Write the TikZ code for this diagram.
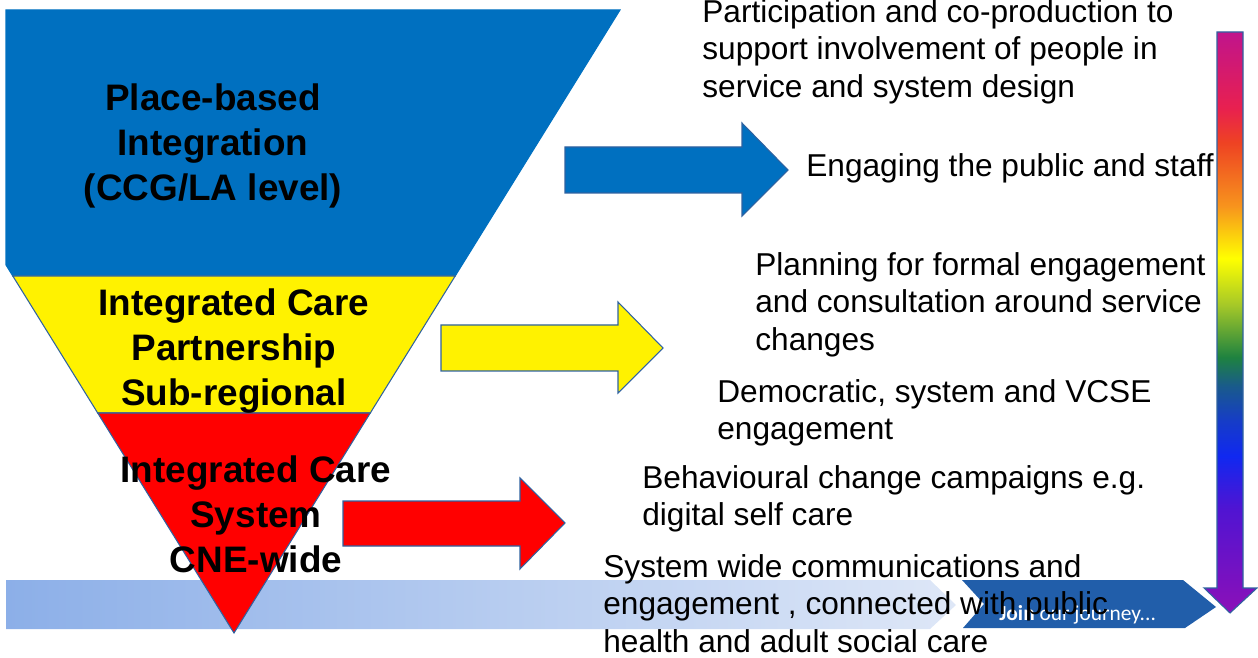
\documentclass[tikz,border=0pt]{standalone}
\usepackage{fontspec}
\setmainfont{Liberation Sans}
\newfontfamily\journeyfont{Carlito}
\usetikzlibrary{positioning,calc}

\definecolor{pptblue}{RGB}{0,112,192}
\definecolor{edgeblue}{RGB}{47,98,160}
\definecolor{bandleft}{RGB}{140,175,232}
\definecolor{bandright}{RGB}{222,231,247}
\definecolor{journeyblue}{RGB}{33,94,170}
% colours of the rainbow arrow, bottom to top
\definecolor{rbpurple}{RGB}{140,16,184}
\definecolor{rbviolet}{RGB}{80,20,210}
\definecolor{rbblue}{RGB}{16,40,240}
\definecolor{rbdeep}{RGB}{22,60,200}
\definecolor{rbteal}{RGB}{25,90,140}
\definecolor{rbgreen}{RGB}{30,130,64}
\definecolor{rblime}{RGB}{165,200,40}
\definecolor{rbyellow}{RGB}{255,255,0}
\definecolor{rborange}{RGB}{247,148,29}
\definecolor{rbred}{RGB}{238,66,35}
\definecolor{rbpink}{RGB}{232,32,80}
\definecolor{rbmagenta}{RGB}{192,20,140}

\pgfdeclareverticalshading{rainbow}{100bp}{
  color(0bp)=(rbpurple); color(25bp)=(rbpurple); color(34bp)=(rbviolet);
  color(38.5bp)=(rbblue); color(41.5bp)=(rbdeep); color(44.5bp)=(rbteal);
  color(47bp)=(rbgreen); color(51.5bp)=(rblime); color(55.5bp)=(rbyellow);
  color(60bp)=(rborange); color(65.5bp)=(rbred); color(68.5bp)=(rbpink);
  color(75bp)=(rbmagenta); color(100bp)=(rbmagenta)}

\tikzset{
layer/.style={draw=edgeblue, line width=0.6pt, line join=miter},
blockarrow/.style={draw=edgeblue, line width=0.6pt},
levellabel/.style={inner sep=0pt, anchor=north, align=center,
  font=\fontsize{21}{25.5}\selectfont\bfseries},
note/.style={inner sep=0pt, anchor=north west, align=left,
  font=\fontsize{18}{21.26}\selectfont},
}

\begin{document}
\begin{tikzpicture}[x=0.02cm, y=-0.02cm]
  \useasboundingbox (0,0) rectangle (1258,658);

  % band along the bottom
  \shade[left color=bandleft, right color=bandright]
    (6,580) -- (930,580) -- (956,605) -- (930,629) -- (6,629) -- cycle;
  \fill[journeyblue]
    (962,580) -- (1183,580) -- (1216,607) -- (1185,628) -- (963,628) -- (984,604) -- cycle;
  \node (journey) [anchor=base west, inner sep=0pt, text=white,
    font=\journeyfont\fontsize{12.2}{14}\selectfont] at (999,620)
    {\bfseries Join\mdseries\ our journey...};

  % the three levels of the funnel
  \filldraw[layer, fill=pptblue, draw=pptblue]
    (6,10) -- (620,10) -- (455.2,276) -- (12.8,276) -- (6,265) -- cycle;
  \filldraw[layer, fill=yellow]
    (12.8,276) -- (455.2,276) -- (370.3,413) -- (97.7,413) -- cycle;
  \filldraw[layer, fill=red]
    (97.7,413) -- (370.3,413) -- (234,633) -- cycle;

  % arrows out of each level
  \filldraw[blockarrow, fill=pptblue]
    (565,147) -- (742,147) -- (742,123) -- (788,170) -- (742,216) -- (742,193) -- (565,193) -- cycle;
  \filldraw[blockarrow, fill=yellow]
    (441,325) -- (618,325) -- (618,302) -- (663,348) -- (618,393) -- (618,371) -- (441,371) -- cycle;
  \filldraw[blockarrow, fill=red]
    (343,501) -- (520,501) -- (520,478) -- (565,523) -- (520,569) -- (520,546) -- (343,546) -- cycle;

  \node (place) [levellabel] at (213,83.5) {Place-based\\Integration\\(CCG/LA level)};
  \node (icp) [levellabel] at (234,288.5) {Integrated Care\\Partnership\\Sub-regional};
  \node (ics) [levellabel] at (256,455.5) {Integrated Care\\System\\CNE-wide};

  \node (participation) [note] at (702,-0.7)
    {Participation and co-production to\\support involvement of people in\\service and system design};
  \node (engaging) [note, anchor=base west] at (806,177) {Engaging the public and staff};
  \node (planning) [note] at (755,252.3)
    {Planning for formal engagement\\and consultation around service\\changes};
  \node (democratic) [note] at (717,379.3) {Democratic, system and VCSE\\engagement};
  \node (behaviour) [note] at (642,465.3) {Behavioural change campaigns e.g.\\digital self care};
  \node (systemwide) [note] at (603,554.3)
    {System wide communications and\\engagement , connected with public\\health and adult social care};

  % rainbow arrow down the right side
  \shade[shading=rainbow, draw=edgeblue, line width=0.6pt]
    (1217,32) -- (1243,32) -- (1243,588) -- (1257,588) -- (1230,613) -- (1204,588) -- (1217,588) -- cycle;
\end{tikzpicture}
\end{document}
